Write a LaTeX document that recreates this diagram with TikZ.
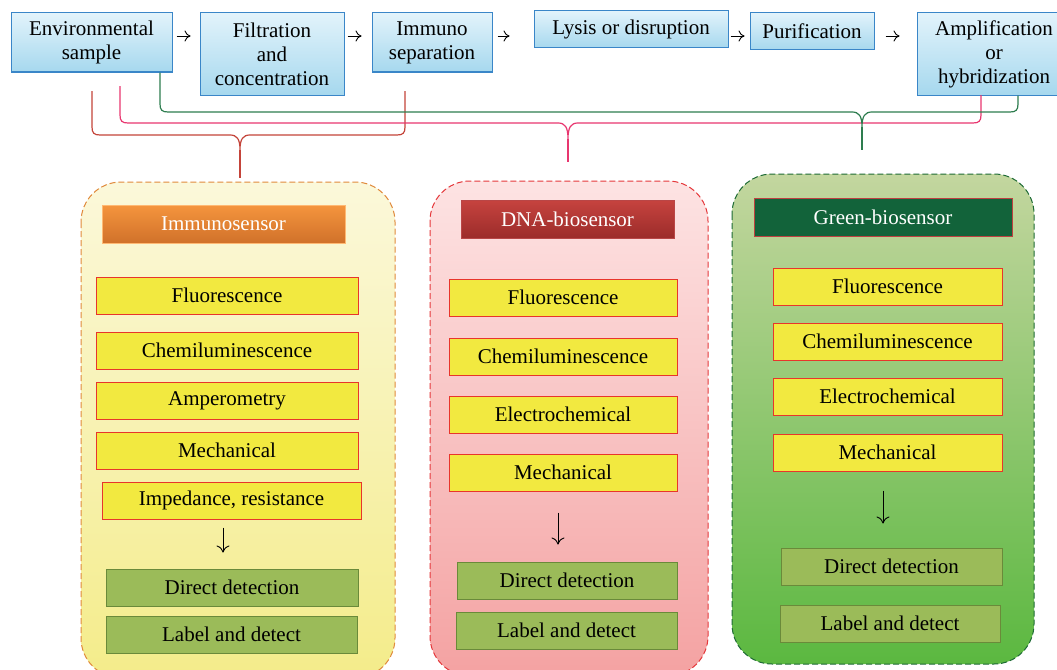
\documentclass[tikz,border=0pt]{standalone}
\usepackage{fontspec}
\setmainfont{Liberation Serif}
\usetikzlibrary{positioning}
\usetikzlibrary{calc}
\usetikzlibrary{arrows.meta}

\definecolor{stepline}{HTML}{3A86C8}
\definecolor{steptop}{HTML}{E2F3FB}
\definecolor{stepbot}{HTML}{A6D8EE}
\definecolor{methfill}{HTML}{F2E940}
\definecolor{methline}{HTML}{E8352B}
\definecolor{detfill}{HTML}{9BBB59}
\definecolor{detline}{HTML}{6A8A3A}
\definecolor{braceimm}{HTML}{C4443A}
\definecolor{bracedna}{HTML}{E8366F}
\definecolor{bracegrn}{HTML}{2E7D4F}
\definecolor{immline}{HTML}{E08A3C}
\definecolor{immtop}{HTML}{FBF8DA}
\definecolor{immbot}{HTML}{F4EC8A}
\definecolor{dnaline}{HTML}{E5383B}
\definecolor{dnatop}{HTML}{FDE3E3}
\definecolor{dnabot}{HTML}{F4A2A2}
\definecolor{grnline}{HTML}{1E6B35}
\definecolor{grntop}{HTML}{C3D69F}
\definecolor{grnbot}{HTML}{5BB840}
\definecolor{immtitletop}{HTML}{F5953D}
\definecolor{immtitlebot}{HTML}{D0712A}
\definecolor{dnatitletop}{HTML}{C6433F}
\definecolor{dnatitlebot}{HTML}{9C2C2A}
\definecolor{grntitle}{HTML}{12633A}

\tikzset{
  stepbox/.style={draw=stepline, line width=1pt, top color=steptop, bottom color=stepbot, align=center, inner sep=2pt},
  methbox/.style={draw=methline, fill=methfill, line width=1pt, minimum height=37},
  detbox/.style={draw=detline, fill=detfill, line width=1pt, minimum height=37},
  titlebox/.style={text=white, line width=0.8pt, minimum height=38},
  panel/.style={line width=1pt, dash pattern=on 6pt off 3pt, rounded corners=40},
  flow/.style={-{To[length=6pt,width=11pt]}, line width=0.9pt},
  downflow/.style={-{To[length=7pt,width=13pt]}, line width=0.9pt},
  brace/.style={line width=1.2pt},
}

\begin{document}
\begin{tikzpicture}[x=1pt, y=-1pt, font=\fontsize{21}{24}\selectfont]
        \clip (0,0) rectangle (1057,669);
        \fill[white] (0,0) rectangle (1057,669);

        % Sensor panels
        \draw[panel, draw=immline, top color=immtop, bottom color=immbot] (81,182) rectangle (395,678);
        \draw[panel, draw=dnaline, top color=dnatop, bottom color=dnabot] (430,181) rectangle (708,676);
        \draw[panel, draw=grnline, top color=grntop, bottom color=grnbot] (732,174) rectangle (1034,664);

        % Top row of process steps
        \node[stepbox, minimum width=161, minimum height=59] (env) at (91.5,42.5) {Environmental\\sample};
        \node[stepbox, minimum width=144, minimum height=82] (filt) at (272,54) {Filtration\\and\\concentration};
        \node[stepbox, minimum width=120, minimum height=59] (immu) at (432,42.5) {Immuno\\separation};
        \node[stepbox, minimum width=194, minimum height=37] (lysis) at (631,29.5) {Lysis or disruption};
        \node[stepbox, minimum width=124, minimum height=37] (puri) at (812,31.5) {Purification};
        \node[stepbox, minimum width=154, minimum height=82] (ampl) at (994,54) {Amplification\\or\\hybridization};

        % Arrows between steps
        \coordinate (arrowrow) at (0,36);
        \draw[flow, shorten <=4pt, shorten >=9pt] (env.east |- arrowrow) -- (filt.west |- arrowrow);
        \draw[flow, shorten <=3pt, shorten >=10pt] (filt.east |- arrowrow) -- (immu.west |- arrowrow);
        \draw[flow, shorten <=5pt, shorten >=24pt] (immu.east |- arrowrow) -- (lysis.west |- arrowrow);
        \draw[flow, shorten <=2pt, shorten >=5pt] (lysis.east |- arrowrow) -- (puri.west |- arrowrow);
        \draw[flow, shorten <=11pt, shorten >=17pt] (puri.east |- arrowrow) -- (ampl.west |- arrowrow);

        % Braces down to the panels
        \coordinate (imml) at (92,91);
        \coordinate (immr) at (405,91);
        \coordinate (immtip) at (240,178);
        \draw[brace, draw=braceimm] (imml) -- (92,127) .. controls (92,133) and (94,135) .. (100,135) -- (230,135)
            .. controls (237,135) and (240,139) .. (240,150) .. controls (240,139) and (243,135) .. (250,135)
            -- (397,135) .. controls (403,135) and (405,133) .. (405,127) -- (immr);
        \draw[brace, draw=braceimm] (240,150) -- (immtip);

        \coordinate (dnal) at (120,86);
        \coordinate (dnar) at (981,95);
        \coordinate (dnatip) at (568,162);
        \draw[brace, draw=bracedna] (dnal) -- (120,115) .. controls (120,121) and (122,123) .. (128,123) -- (558,123)
            .. controls (565,123) and (568,127) .. (568,139) .. controls (568,127) and (571,123) .. (578,123)
            -- (973,123) .. controls (979,123) and (981,121) .. (981,115) -- (dnar);
        \draw[brace, draw=bracedna] (568,139) -- (dnatip);

        \coordinate (grnl) at (env.south -| 160,0);
        \coordinate (grnr) at (ampl.south -| 1018,0);
        \coordinate (grntip) at (862,150);
        \draw[brace, draw=bracegrn] (grnl) -- (160,104) .. controls (160,110) and (162,112) .. (168,112) -- (852,112)
            .. controls (859,112) and (862,116) .. (862,127) .. controls (862,116) and (865,112) .. (872,112)
            -- (1010,112) .. controls (1016,112) and (1018,110) .. (1018,104) -- (grnr);
        \draw[brace, draw=bracegrn] (862,127) -- (grntip);

        % Immunosensor panel
        \node[titlebox, draw=orange!55, top color=immtitletop, bottom color=immtitlebot, minimum width=243] (immtitle) at (223.5,224) {Immunosensor};
        \foreach \name/\y/\txt in {imfl/295.5/Fluorescence, imch/350.5/Chemiluminescence, imam/400.5/Amperometry, imme/450.5/Mechanical} {
            \node[methbox, minimum width=262] (\name) at (227,\y) {\txt};
        }
        \node[methbox, minimum width=259] (imim) at (231.5,500.5) {Impedance, resistance};
        \node[detbox, minimum width=252] (imdd) at (232,587.5) {Direct detection};
        \node[detbox, minimum width=251] (imld) at (231.5,634.5) {Label and detect};
        \draw[downflow, shorten <=8pt, shorten >=16pt] ([xshift=-8.5pt]imim.south) -- ([xshift=-8.5pt]imim.south |- imdd.north);

        % DNA-biosensor panel
        \node[titlebox, draw=red!45!gray, top color=dnatitletop, bottom color=dnatitlebot, minimum width=213] (dnatitle) at (567.5,219) {DNA-biosensor};
        \foreach \name/\y/\txt in {dnfl/297.5/Fluorescence, dnch/356.5/Chemiluminescence, dnel/414.5/Electrochemical, dnme/472.5/Mechanical} {
            \node[methbox, minimum width=228] (\name) at (563,\y) {\txt};
        }
        \node[detbox, minimum width=220] (dndd) at (567,580.5) {Direct detection};
        \node[detbox, minimum width=221] (dnld) at (566.5,630.5) {Label and detect};
        \draw[downflow, shorten <=21pt, shorten >=17pt] ([xshift=-5pt]dnme.south) -- ([xshift=-5pt]dnme.south |- dndd.north);

        % Green-biosensor panel
        \node[titlebox, draw=red!50!gray, fill=grntitle, minimum width=258] (grntitle) at (883,217) {Green-biosensor};
        \foreach \name/\y/\txt in {gnfl/286.5/Fluorescence, gnch/341.5/Chemiluminescence, gnel/396.5/Electrochemical, gnme/452.5/Mechanical} {
            \node[methbox, minimum width=229] (\name) at (887.5,\y) {\txt};
        }
        \node[detbox, minimum width=221] (gndd) at (891.5,566.5) {Direct detection};
        \node[detbox, minimum width=220] (gnld) at (890,623.5) {Label and detect};
        \draw[downflow, shorten <=19pt, shorten >=24pt] ([xshift=-4.5pt]gnme.south) -- ([xshift=-4.5pt]gnme.south |- gndd.north);

    \end{tikzpicture}
\end{document}
